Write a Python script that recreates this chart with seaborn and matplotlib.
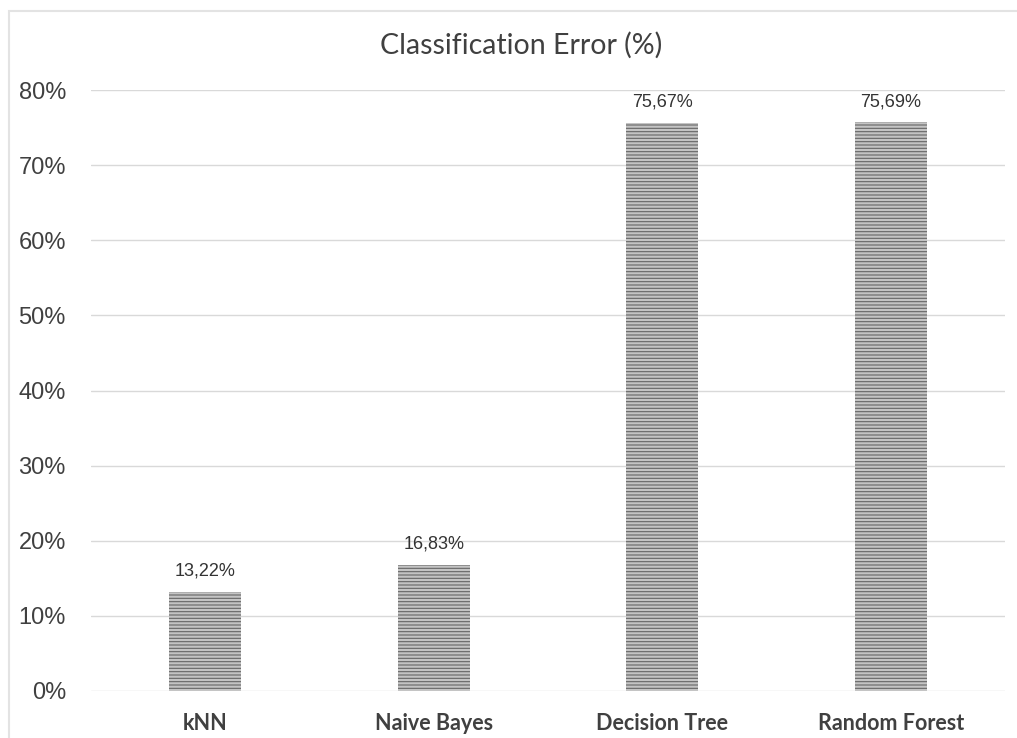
import matplotlib
matplotlib.use('Agg')
import matplotlib.pyplot as plt
import seaborn as sns
import pandas as pd
from matplotlib.patches import Rectangle

# 数据
classifiers = ['kNN', 'Naive Bayes', 'Decision Tree', 'Random Forest']
error_pct = [13.22, 16.83, 75.67, 75.69]
y_ticks = [0, 10, 20, 30, 40, 50, 60, 70, 80]
title = 'Classification Error (%)'

sns.set_theme(style='white')
plt.rcParams['font.family'] = ['Liberation Sans', 'DejaVu Sans']
plt.rcParams['hatch.linewidth'] = 0.8

df = pd.DataFrame({'classifier': classifiers, 'error': error_pct})

fig = plt.figure(figsize=(10.17, 7.38), dpi=100)
ax = fig.add_axes([0.0894, 0.0637, 0.8988, 0.8143])

# 外框 (Excel 图表边框)
fig.patches.append(Rectangle((9 / 1017, -0.1), 1.2, (738 - 10.5) / 738 + 0.1,
                             transform=fig.transFigure, fill=False,
                             edgecolor='#e3e3e3', linewidth=1.5, zorder=0))

sns.barplot(data=df, x='classifier', y='error', color='#c4c4c4',
            width=0.315, saturation=1, ax=ax, zorder=3)
for bar in ax.patches:
    bar.set_hatch('-----')
    bar.set_edgecolor('#666666')
    bar.set_linewidth(0)

ax.set_ylim(0, 80)
ax.set_xlim(-0.5, 3.5)
ax.set_yticks(y_ticks)
ax.set_yticklabels([f'{t}%' for t in y_ticks], fontsize=17, color='#404040')
ax.set_xticklabels(classifiers, fontsize=15.5, fontweight='bold', color='#404040',
                   family=['Lato', 'DejaVu Sans'])
ax.tick_params(axis='x', length=0, pad=16)
ax.tick_params(axis='y', length=0, pad=18)
ax.set_xlabel('')
ax.set_ylabel('')
ax.grid(True, axis='y', color='#d9d9d9', linewidth=1, zorder=0)
sns.despine(ax=ax, left=True, right=True, top=True, bottom=True)

for bar, val in zip(ax.patches, error_pct):
    ax.text(bar.get_x() + bar.get_width() / 2, val + 1.6,
            f'{val:.2f}%'.replace('.', ','), ha='center', va='bottom',
            fontsize=13, color='#333333')

fig.text(0.512, 0.938, title, ha='center', va='center', fontsize=20.5,
         color='#404040', family=['Lato', 'DejaVu Sans'])

fig.savefig('out.png', dpi=100)
